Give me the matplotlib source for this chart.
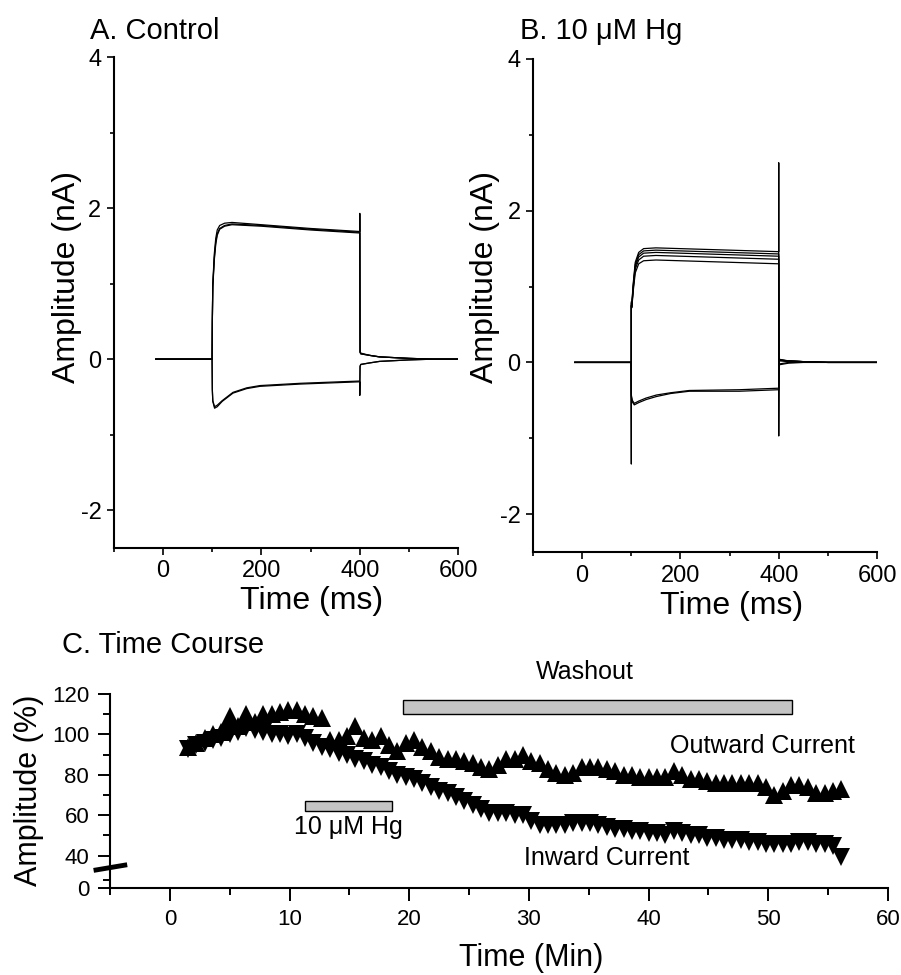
"""
Hg block of K currents: control / 10 uM Hg traces and time course.
"""

import numpy as np
import matplotlib
matplotlib.use('Agg')
import matplotlib.pyplot as plt
from matplotlib.patches import Rectangle
from matplotlib.lines import Line2D

plt.rcParams['font.family'] = ['Liberation Sans', 'DejaVu Sans']
plt.rcParams['axes.unicode_minus'] = False

# ---------------- Panel A: control traces (ms, nA) ----------------
t_a_out = [-15, 99.5, 100, 101, 104, 107, 110, 115, 125, 140, 200, 300, 400, 400,
           400.5, 402, 420, 440, 470, 500, 550, 600]
a_out_1 = [0, 0, 0.50, 1.00, 1.39, 1.60, 1.71, 1.77, 1.80, 1.81, 1.78, 1.73, 1.69, 1.93,
           0.10, 0.08, 0.05, 0.03, 0.02, 0.01, 0.00, 0.00]
a_out_2 = [0, 0, 0.50, 0.97, 1.34, 1.55, 1.66, 1.73, 1.77, 1.79, 1.77, 1.72, 1.68, 1.68,
           0.09, 0.07, 0.05, 0.03, 0.02, 0.01, 0.00, 0.00]
a_out_3 = [0, 0, 0.48, 0.95, 1.31, 1.52, 1.64, 1.72, 1.76, 1.78, 1.76, 1.71, 1.67, 1.67,
           0.09, 0.07, 0.05, 0.03, 0.02, 0.01, 0.00, 0.00]

t_a_in = [-15, 99.5, 100, 101, 104.6, 110, 120, 142, 170, 197, 279, 400, 400,
          400.5, 402, 420, 440, 470, 500, 550, 600]
a_in_1 = [0, 0, -0.40, -0.56, -0.65, -0.63, -0.56, -0.45, -0.39, -0.36, -0.33, -0.30, -0.48,
          -0.10, -0.07, -0.05, -0.03, -0.02, -0.01, 0.00, 0.00]
a_in_2 = [0, 0, -0.40, -0.55, -0.63, -0.61, -0.55, -0.44, -0.38, -0.35, -0.32, -0.29, -0.29,
          -0.09, -0.07, -0.05, -0.03, -0.02, -0.01, 0.00, 0.00]

# ---------------- Panel B: 10 uM Hg traces (ms, nA) ----------------
t_b_out = [-15, 99.5, 100, 100, 101, 104, 108, 115, 125, 150, 200, 300, 400, 400, 400,
           400.5, 402, 420, 450, 500, 600]
b_out_1 = [0, 0, -1.34, 0.80, 0.78, 1.05, 1.32, 1.45, 1.50, 1.51, 1.50, 1.48, 1.46, 2.63, -0.97,
           0.05, 0.04, 0.02, 0.01, 0.00, 0.00]
b_out_2 = [0, 0, 0.00, 0.78, 0.76, 1.02, 1.29, 1.42, 1.47, 1.48, 1.47, 1.45, 1.43, 1.43, 1.43,
           0.04, 0.03, 0.02, 0.01, 0.00, 0.00]
b_out_3 = [0, 0, 0.00, 0.76, 0.74, 1.00, 1.26, 1.39, 1.44, 1.45, 1.44, 1.42, 1.40, 1.40, 1.40,
           0.04, 0.03, 0.02, 0.01, 0.00, 0.00]
b_out_4 = [0, 0, 0.00, 0.75, 0.73, 0.98, 1.23, 1.35, 1.40, 1.41, 1.40, 1.38, 1.36, 1.36, 1.36,
           0.04, 0.03, 0.02, 0.01, 0.00, 0.00]
b_out_5 = [0, 0, 0.00, 0.74, 0.72, 0.95, 1.18, 1.30, 1.34, 1.35, 1.34, 1.32, 1.30, 1.30, 1.30,
           0.03, 0.02, 0.01, 0.01, 0.00, 0.00]

t_b_in = [-15, 99.5, 100, 102, 106, 115, 130, 151, 180, 218, 320, 400, 400.5, 402, 420,
          450, 500, 600]
b_in_1 = [0, 0, -0.45, -0.52, -0.56, -0.53, -0.49, -0.45, -0.41, -0.38, -0.38, -0.36, 0.00,
          -0.02, 0.00, 0.00, 0.00, 0.00]
b_in_2 = [0, 0, -0.43, -0.50, -0.54, -0.51, -0.47, -0.43, -0.40, -0.37, -0.36, -0.34, 0.00,
          -0.03, -0.01, 0.00, 0.00, 0.00]

# ---------------- Panel C: time course (min, % of control) ----------------
t_course = [1.5, 2.2, 2.9, 3.6, 4.3, 5.0, 5.7, 6.4, 7.1, 7.8, 8.5, 9.2, 9.9, 10.6,
            11.3, 12.0, 12.7, 13.4, 14.1, 14.8, 15.5, 16.2, 16.9, 17.6, 18.3, 19.0,
            19.7, 20.4, 21.1, 21.8, 22.5, 23.2, 23.9, 24.6, 25.3, 26.0, 26.7, 27.4,
            28.1, 28.8, 29.5, 30.2, 30.9, 31.6, 32.3, 33.0, 33.7, 34.4, 35.1, 35.8,
            36.5, 37.2, 37.9, 38.6, 39.3, 40.0, 40.7, 41.4, 42.1, 42.8, 43.5, 44.2,
            44.9, 45.6, 46.3, 47.0, 47.7, 48.4, 49.1, 49.8, 50.5, 51.2, 51.9, 52.6,
            53.3, 54.0, 54.7, 55.4, 56.1]
outward_pct = [94, 96, 98, 100, 101, 109, 104, 110, 106, 110, 110, 111, 112, 112,
               110, 109, 108, 97, 97, 99, 104, 98, 97, 99, 95, 92,
               96, 97, 94, 92, 89, 88, 88, 87, 86, 84, 83, 85,
               88, 88, 90, 87, 86, 83, 81, 80, 81, 84, 84, 84,
               83, 82, 80, 80, 79, 79, 79, 79, 82, 80, 78, 78,
               77, 76, 76, 76, 76, 76, 76, 74, 70, 72, 75, 75,
               74, 71, 71, 72, 73]
inward_pct = [93, 95, 96, 97, 98, 100, 101, 103, 102, 101, 100, 100, 99, 100,
              98, 96, 94, 93, 91, 90, 88, 87, 85, 84, 82, 80,
              79, 78, 76, 74, 72, 71, 69, 67, 65, 63, 61, 61,
              61, 60, 60, 57, 55, 55, 55, 55, 56, 56, 56, 55,
              54, 53, 53, 52, 52, 51, 51, 50, 52, 51, 50, 50,
              49, 49, 48, 48, 48, 47, 47, 46, 46, 46, 46, 47,
              47, 46, 46, 45, 39]

hg_period = (11.3, 18.6)
washout_period = (19.5, 52.0)

BREAK_AT = 40.0
BELOW_FACTOR = 0.4


def _fwd(y):
    y = np.asarray(y, dtype=float)
    return np.where(y >= BREAK_AT, y, BREAK_AT - (BREAK_AT - y) * BELOW_FACTOR)


def _inv(u):
    u = np.asarray(u, dtype=float)
    return np.where(u >= BREAK_AT, u, BREAK_AT - (BREAK_AT - u) / BELOW_FACTOR)


def style_trace_axes(ax):
    for side in ('top', 'right'):
        ax.spines[side].set_visible(False)
    for side in ('left', 'bottom'):
        ax.spines[side].set_linewidth(1.5)
    ax.set_xlim(-100, 600)
    ax.set_ylim(-2.5, 4)
    ax.set_xticks([0, 200, 400, 600])
    ax.set_xticks([-100, 100, 300, 500], minor=True)
    ax.set_yticks([-2, 0, 2, 4])
    ax.set_yticks([-1, 1, 3], minor=True)
    ax.tick_params(which='major', direction='out', length=5, width=1.2,
                   labelsize=17, pad=4)
    ax.tick_params(which='minor', direction='out', length=3, width=1.2)


fig = plt.figure(figsize=(9.01, 9.75), dpi=100)

# Panel A
ax_a = fig.add_axes([0.1265, 0.438, 0.382, 0.5035])
for vals in (a_out_1, a_out_2, a_out_3):
    ax_a.plot(t_a_out, vals, color='black', lw=0.9)
for vals in (a_in_1, a_in_2):
    ax_a.plot(t_a_in, vals, color='black', lw=0.9)
style_trace_axes(ax_a)
ax_a.set_ylabel('Amplitude (nA)', fontsize=23)
ax_a.yaxis.set_label_coords(-0.093, 0.551)
ax_a.set_xlabel('Time (ms)', fontsize=23)
ax_a.xaxis.set_label_coords(0.573, -0.077)

# Panel B
ax_b = fig.add_axes([0.5916, 0.4338, 0.3818, 0.5057])
for vals in (b_out_1, b_out_2, b_out_3, b_out_4, b_out_5):
    ax_b.plot(t_b_out, vals, color='black', lw=0.9)
for vals in (b_in_1, b_in_2):
    ax_b.plot(t_b_in, vals, color='black', lw=0.9)
style_trace_axes(ax_b)
ax_b.set_ylabel('Amplitude (nA)', fontsize=23)
ax_b.yaxis.set_label_coords(-0.096, 0.557)
ax_b.set_xlabel('Time (ms)', fontsize=23)
ax_b.xaxis.set_label_coords(0.578, -0.079)

# Panel C
ax_c = fig.add_axes([0.1221, 0.0892, 0.8635, 0.199])
ax_c.set_yscale('function', functions=(_fwd, _inv))
ax_c.plot(t_course, outward_pct, linestyle='none', marker='^', markersize=13,
          color='black', markeredgewidth=0)
ax_c.plot(t_course, inward_pct, linestyle='none', marker='v', markersize=13,
          color='black', markeredgewidth=0)
ax_c.set_xlim(-5, 60)
ax_c.set_ylim(0, 120)
for side in ('top', 'right'):
    ax_c.spines[side].set_visible(False)
for side in ('left', 'bottom'):
    ax_c.spines[side].set_linewidth(1.5)
ax_c.set_xticks([0, 10, 20, 30, 40, 50, 60])
ax_c.set_xticks([-5, 5, 15, 25, 35, 45, 55], minor=True)
ax_c.set_yticks([0, 40, 60, 80, 100, 120])
ax_c.set_yticks([10, 50, 70, 90, 110], minor=True)
ax_c.tick_params(which='major', direction='out', length=9, width=1.4,
                 labelsize=16, pad=6)
ax_c.tick_params(which='minor', direction='out', length=5, width=1.4)
ax_c.set_ylabel('Amplitude (%)', fontsize=22)
ax_c.yaxis.set_label_coords(-0.085, 0.505)
ax_c.set_xlabel('Time (Min)', fontsize=22)
ax_c.xaxis.set_label_coords(0.541, -0.285)

# axis break mark on the y axis
ax_c.add_line(Line2D([-0.018, 0.019], [0.093, 0.118], transform=ax_c.transAxes,
                     color='black', lw=3.5, clip_on=False))

# application bars
ax_c.add_patch(Rectangle((hg_period[0], 62), hg_period[1] - hg_period[0], 5,
                         facecolor='#c4c4c4', edgecolor='black', lw=1.0))
ax_c.add_patch(Rectangle((washout_period[0], 110), washout_period[1] - washout_period[0], 7,
                         facecolor='#c4c4c4', edgecolor='black', lw=1.0))
ax_c.text(14.9, 54.3, '10 μM Hg', fontsize=18, ha='center', va='center')
ax_c.text(34.7, 131, 'Washout', fontsize=18, ha='center', va='center')
ax_c.text(49.5, 94.3, 'Outward Current', fontsize=18, ha='center', va='center')
ax_c.text(36.5, 37.5, 'Inward Current', fontsize=18, ha='center', va='center')

# panel titles
fig.text(90 / 901, 1 - 39 / 975, 'A. Control', fontsize=21, ha='left', va='baseline')
fig.text(520 / 901, 1 - 39 / 975, 'B. 10 μM Hg', fontsize=21, ha='left', va='baseline')
fig.text(62 / 901, 1 - 653 / 975, 'C. Time Course', fontsize=21, ha='left', va='baseline')

fig.savefig('out.png', dpi=100)
